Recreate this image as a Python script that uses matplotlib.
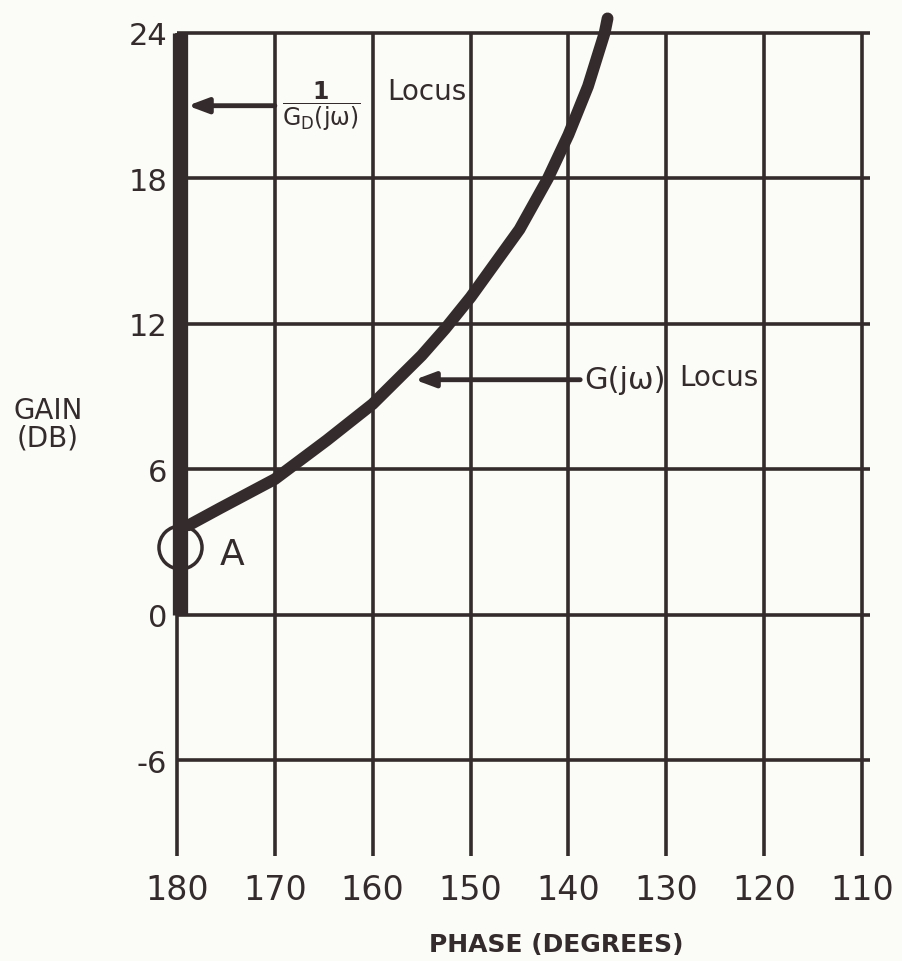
import matplotlib.pyplot as plt

plt.rcParams['font.family'] = ['DejaVu Sans']
plt.rcParams['mathtext.fontset'] = 'dejavusans'

ink = '#342c2c'

# Axis ticks
phase_ticks = [180, 170, 160, 150, 140, 130, 120, 110]
gain_ticks = [24, 18, 12, 6, 0, -6]
gain_tick_labels = ['24', '18', '12', '6', '0', '-6']

# G(jw) locus (phase in degrees, gain in dB)
g_phase = [178.8, 175.6, 170, 164.7, 160, 155, 152.6, 150, 145, 142.1, 140, 138, 136.3, 136.0]
g_gain = [3.7, 4.4, 5.6, 7.2, 8.7, 10.7, 11.8, 13.1, 15.9, 18.0, 19.8, 21.8, 24.0, 24.6]

# 1/Gp(jw) locus: vertical segment at -180 deg
gp_phase = [179.7, 179.7]
gp_gain = [0, 24]

# point A
a_phase = 179.7
a_gain = 2.8

fig = plt.figure(figsize=(9.02, 9.62), dpi=100, facecolor='#fbfbf8')
ax = fig.add_axes([177 / 902, 105 / 962, 685 / 902, 857 / 962])
ax.set_facecolor('#fbfbf8')
ax.set_xlim(180, 110)
ax.set_ylim(-9.94, 25.4)

# hand-ruled grid
ax.vlines(phase_ticks, -9.94, 24, color=ink, lw=2.6, clip_on=False, zorder=1)
ax.hlines(gain_ticks, 180, 109.2, color=ink, lw=2.6, clip_on=False, zorder=1)

# loci
ax.plot(gp_phase, gp_gain, color=ink, lw=11, solid_capstyle='butt', zorder=3, clip_on=False)
ax.plot(g_phase, g_gain, color=ink, lw=8.5, solid_capstyle='round',
        solid_joinstyle='round', zorder=3, clip_on=False)
ax.plot(a_phase, a_gain, 'o', ms=31, mfc='none', mec=ink, mew=2.5, zorder=4, clip_on=False)
ax.text(174.4, 2.5, 'A', fontsize=26, color=ink, ha='center', va='center')

# annotations
ax.annotate('', xy=(178.9, 21.0), xytext=(170.0, 21.0),
            arrowprops=dict(arrowstyle='-|>,head_length=1.2,head_width=0.45',
                            color=ink, lw=3.5, shrinkA=0, shrinkB=0))
ax.text(165.2, 21.0, r'$\dfrac{\mathbf{1}}{\mathrm{G_D(j\omega)}}$', fontsize=17,
        color=ink, ha='center', va='center')
ax.text(154.5, 21.6, 'Locus', fontsize=20, color=ink, ha='center', va='center')

ax.annotate('', xy=(155.7, 9.7), xytext=(138.8, 9.7),
            arrowprops=dict(arrowstyle='-|>,head_length=1.2,head_width=0.45',
                            color=ink, lw=3.5, shrinkA=0, shrinkB=0))
ax.text(138.4, 9.7, 'G(jω)', fontsize=22, color=ink, ha='left', va='center')
ax.text(124.6, 9.8, 'Locus', fontsize=20, color=ink, ha='center', va='center')

# ticks and labels
for s in ax.spines.values():
    s.set_visible(False)
ax.set_xticks(phase_ticks)
ax.set_xticklabels([str(p) for p in phase_ticks], fontsize=24, color=ink)
ax.set_yticks(gain_ticks)
ax.set_yticklabels(gain_tick_labels, fontsize=22, color=ink)
ax.tick_params(axis='x', length=0, pad=12)
ax.tick_params(axis='y', length=0, pad=7)

ax.set_xlabel('PHASE (DEGREES)', fontsize=18, fontweight='bold', color=ink)
ax.xaxis.set_label_coords((556 - 177) / 685, -76 / 857)
ax.set_ylabel('GAIN\n(DB)', fontsize=20, color=ink, rotation=0,
              ha='center', va='center', linespacing=1.0)
ax.yaxis.set_label_coords(-(177 - 48) / 685, (857 - 425) / 857)

fig.savefig('out.png', dpi=100, facecolor=fig.get_facecolor())
